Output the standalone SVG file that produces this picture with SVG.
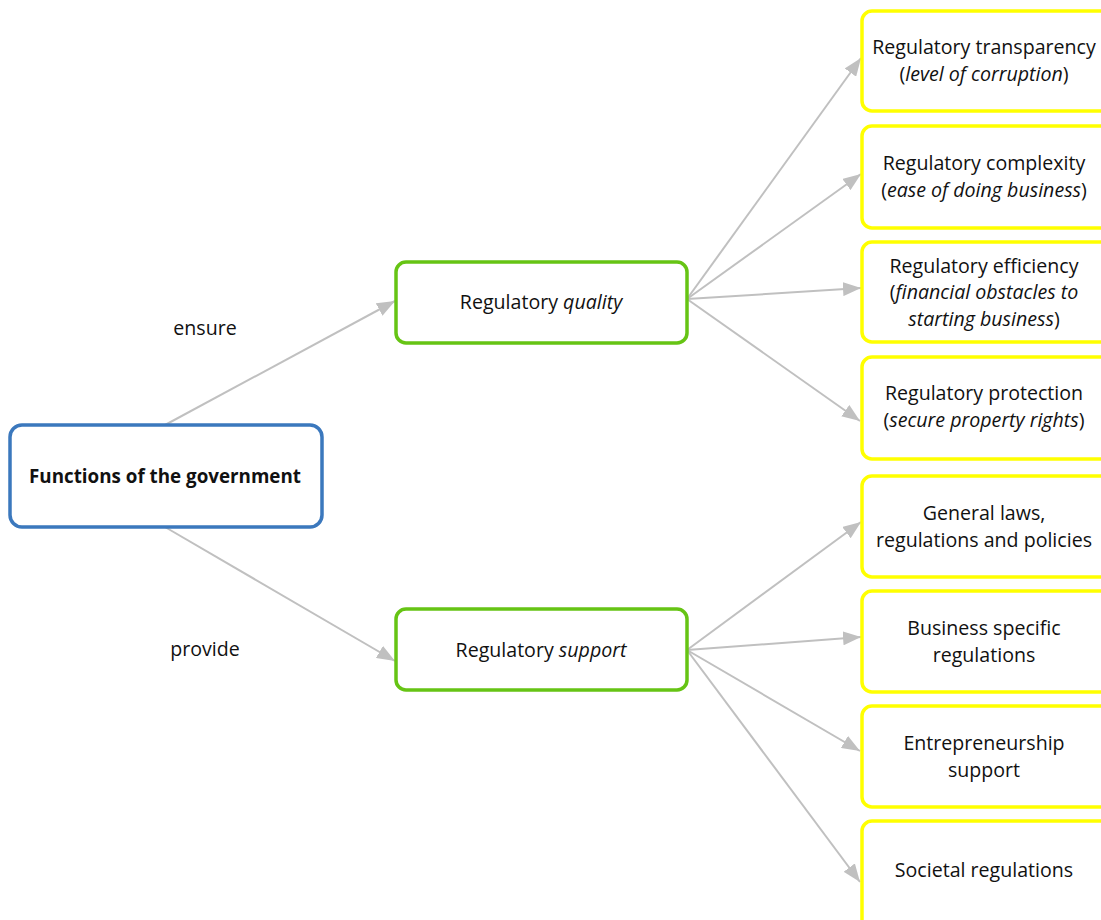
<svg xmlns="http://www.w3.org/2000/svg" width="1101" height="920" viewBox="0 0 1101 920">
  <style>
    text { font-family: "Open Sans", Lato, "Liberation Sans", sans-serif; font-size: 19.6px; fill: #111; text-anchor: middle; }
    .root { fill: #fff; stroke: #3b78bd; stroke-width: 3.5; }
    .mid { fill: #fff; stroke: #66c414; stroke-width: 3.5; }
    .leaf { fill: #fff; stroke: #ffff00; stroke-width: 3.5; }
    .conn line { stroke: #c0c0c0; stroke-width: 2; marker-end: url(#arrow); }
    .b { font-weight: bold; font-size: 18.8px; }
    .i { font-style: italic; }
  </style>
  <defs>
    <marker id="arrow" markerWidth="20" markerHeight="14" refX="18" refY="7" orient="auto" markerUnits="userSpaceOnUse">
      <path d="M0,0 L18,7 L0,14 Z" fill="#c0c0c0"/>
    </marker>
  </defs>
  <rect width="1101" height="920" fill="#fff"/>

  <g id="connectors" class="conn">
    <line x1="165" y1="425" x2="395" y2="301"/>
    <line x1="165" y1="527" x2="395" y2="661"/>
    <line x1="687" y1="299" x2="861" y2="58"/>
    <line x1="687" y1="299" x2="861" y2="174"/>
    <line x1="687" y1="299" x2="861" y2="288"/>
    <line x1="687" y1="299" x2="860" y2="421"/>
    <line x1="687" y1="650" x2="861" y2="522"/>
    <line x1="687" y1="650" x2="861" y2="637"/>
    <line x1="687" y1="650" x2="860" y2="751"/>
    <line x1="687" y1="650" x2="860" y2="882"/>
  </g>

  <g id="label-ensure"><text x="205" y="335">ensure</text></g>
  <g id="label-provide"><text x="205" y="656">provide</text></g>

  <g id="node-root">
    <rect class="root" x="10" y="425" width="312" height="102" rx="12"/>
    <text class="b" x="165" y="483">Functions of the government</text>
  </g>

  <g id="node-quality">
    <rect class="mid" x="396" y="262" width="291" height="81" rx="10"/>
    <text x="541" y="309">Regulatory <tspan class="i">quality</tspan></text>
  </g>
  <g id="node-support">
    <rect class="mid" x="396" y="609" width="291" height="81" rx="10"/>
    <text x="541" y="657">Regulatory <tspan class="i">support</tspan></text>
  </g>

  <g id="node-transparency">
    <rect class="leaf" x="862" y="11" width="250" height="100" rx="10"/>
    <text x="984" y="54">Regulatory transparency</text>
    <text x="984" y="81">(<tspan class="i">level of corruption</tspan>)</text>
  </g>
  <g id="node-complexity">
    <rect class="leaf" x="862" y="126" width="250" height="102" rx="10"/>
    <text x="984" y="170">Regulatory complexity</text>
    <text x="984" y="197">(<tspan class="i">ease of doing business</tspan>)</text>
  </g>
  <g id="node-efficiency">
    <rect class="leaf" x="862" y="242" width="250" height="100" rx="10"/>
    <text x="984" y="273">Regulatory efficiency</text>
    <text x="984" y="299">(<tspan class="i">financial obstacles to</tspan></text>
    <text x="984" y="326"><tspan class="i">starting business</tspan>)</text>
  </g>
  <g id="node-protection">
    <rect class="leaf" x="862" y="357" width="250" height="102" rx="10"/>
    <text x="984" y="400">Regulatory protection</text>
    <text x="984" y="427">(<tspan class="i">secure property rights</tspan>)</text>
  </g>

  <g id="node-general">
    <rect class="leaf" x="862" y="476" width="250" height="101" rx="10"/>
    <text x="984" y="520">General laws,</text>
    <text x="984" y="547">regulations and policies</text>
  </g>
  <g id="node-business">
    <rect class="leaf" x="862" y="591" width="250" height="101" rx="10"/>
    <text x="984" y="635">Business specific</text>
    <text x="984" y="662">regulations</text>
  </g>
  <g id="node-entrepreneurship">
    <rect class="leaf" x="862" y="706" width="250" height="101" rx="10"/>
    <text x="984" y="750">Entrepreneurship</text>
    <text x="984" y="777">support</text>
  </g>
  <g id="node-societal">
    <rect class="leaf" x="862" y="821" width="250" height="110" rx="10"/>
    <text x="984" y="877">Societal regulations</text>
  </g>
</svg>
